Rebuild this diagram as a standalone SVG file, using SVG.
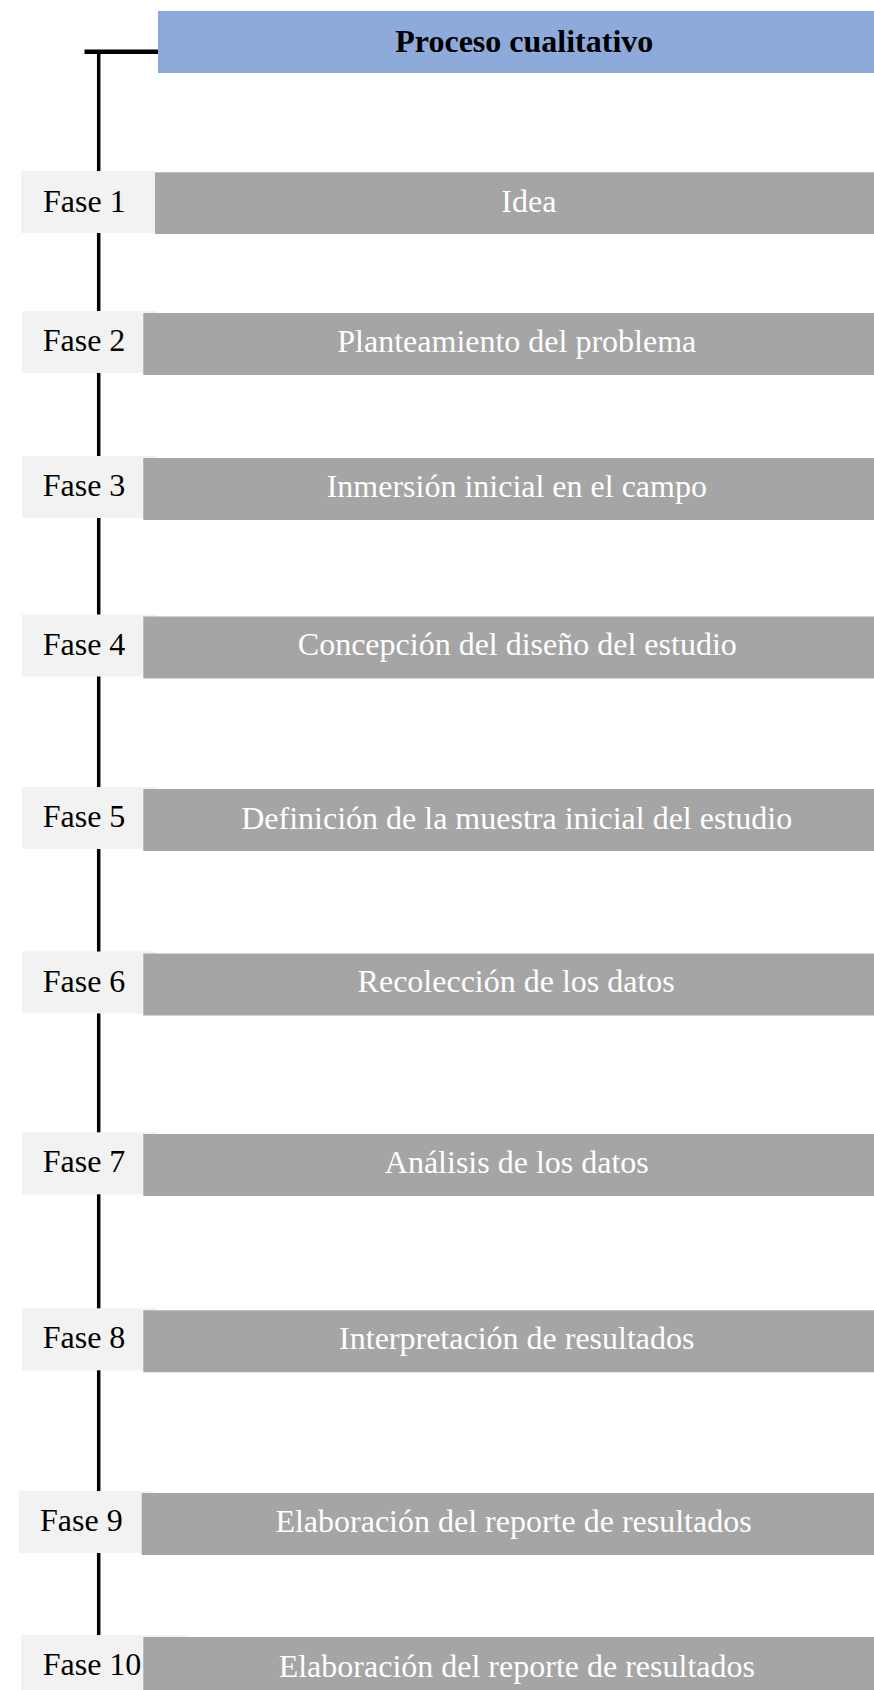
<svg xmlns="http://www.w3.org/2000/svg" width="874" height="1690" viewBox="0 0 874 1690">
<style>
.hdr{fill:#8EAADB}
.lbl{fill:#F2F2F2}
.bar{fill:#A5A5A5}
.lt{font-family:"Liberation Serif","Times New Roman",serif;font-size:32px;fill:#000}
.bt{font-family:"Liberation Serif","Times New Roman",serif;font-size:32px;fill:#FFFFFF;text-anchor:middle}
.ht{font-family:"Liberation Serif","Times New Roman",serif;font-size:32px;font-weight:bold;fill:#000;text-anchor:middle}
.ln{stroke:#000;fill:none}
</style>
<rect width="874" height="1690" fill="#FFFFFF"/>
<g id="connectors">
<line class="ln" x1="84.5" y1="51.7" x2="158" y2="51.7" stroke-width="4.5"/>
<line class="ln" x1="98.7" y1="50" x2="98.7" y2="1636" stroke-width="3.5"/>
</g>
<g id="header">
<rect class="hdr" x="158" y="11" width="732" height="62"/>
<text class="ht" x="524.3" y="51.7">Proceso cualitativo</text>
</g>
<g id="fase1">
<rect class="lbl" x="21" y="171" width="134" height="62"/>
<rect class="bar" x="155" y="172.3" width="735" height="61.7"/>
<text class="lt" x="43" y="211.7">Fase 1</text>
<text class="bt" x="528.8" y="211.7">Idea</text>
</g>
<g id="fase2">
<rect class="lbl" x="22" y="311" width="135" height="62"/>
<rect class="bar" x="143.3" y="313" width="747" height="62"/>
<text class="lt" x="42.7" y="351">Fase 2</text>
<text class="bt" x="516.8" y="351.5">Planteamiento del problema</text>
</g>
<g id="fase3">
<rect class="lbl" x="22" y="456" width="135" height="62"/>
<rect class="bar" x="143.3" y="458" width="747" height="62"/>
<text class="lt" x="42.7" y="496">Fase 3</text>
<text class="bt" x="516.8" y="496.5">Inmersión inicial en el campo</text>
</g>
<g id="fase4">
<rect class="lbl" x="22" y="614.5" width="135" height="62"/>
<rect class="bar" x="143.3" y="616.5" width="747" height="62"/>
<text class="lt" x="42.7" y="654.5">Fase 4</text>
<text class="bt" x="517.3" y="655">Concepción del diseño del estudio</text>
</g>
<g id="fase5">
<rect class="lbl" x="22" y="787" width="135" height="62"/>
<rect class="bar" x="143.3" y="789" width="747" height="62"/>
<text class="lt" x="42.7" y="827">Fase 5</text>
<text class="bt" x="516.7" y="828.5">Definición de la muestra inicial del estudio</text>
</g>
<g id="fase6">
<rect class="lbl" x="22" y="951.5" width="135" height="62"/>
<rect class="bar" x="143.3" y="953.5" width="747" height="62"/>
<text class="lt" x="42.7" y="991.5">Fase 6</text>
<text class="bt" x="516.2" y="992">Recolección de los datos</text>
</g>
<g id="fase7">
<rect class="lbl" x="22" y="1132.3" width="135" height="62"/>
<rect class="bar" x="143.3" y="1134" width="747" height="62"/>
<text class="lt" x="42.7" y="1172.3">Fase 7</text>
<text class="bt" x="516.8" y="1173">Análisis de los datos</text>
</g>
<g id="fase8">
<rect class="lbl" x="22" y="1308.3" width="135" height="62"/>
<rect class="bar" x="143.3" y="1310.3" width="747" height="62"/>
<text class="lt" x="42.7" y="1348.3">Fase 8</text>
<text class="bt" x="516.8" y="1349">Interpretación de resultados</text>
</g>
<g id="fase9">
<rect class="lbl" x="19" y="1491" width="134.3" height="62"/>
<rect class="bar" x="141.7" y="1493" width="748" height="62"/>
<text class="lt" x="40" y="1531">Fase 9</text>
<text class="bt" x="513.5" y="1531.5">Elaboración del reporte de resultados</text>
</g>
<g id="fase10">
<rect class="lbl" x="21" y="1635" width="166.3" height="62"/>
<rect class="bar" x="143.3" y="1637" width="747" height="62"/>
<text class="lt" x="42.7" y="1675">Fase 10</text>
<text class="bt" x="516.8" y="1677">Elaboración del reporte de resultados</text>
</g>
</svg>
